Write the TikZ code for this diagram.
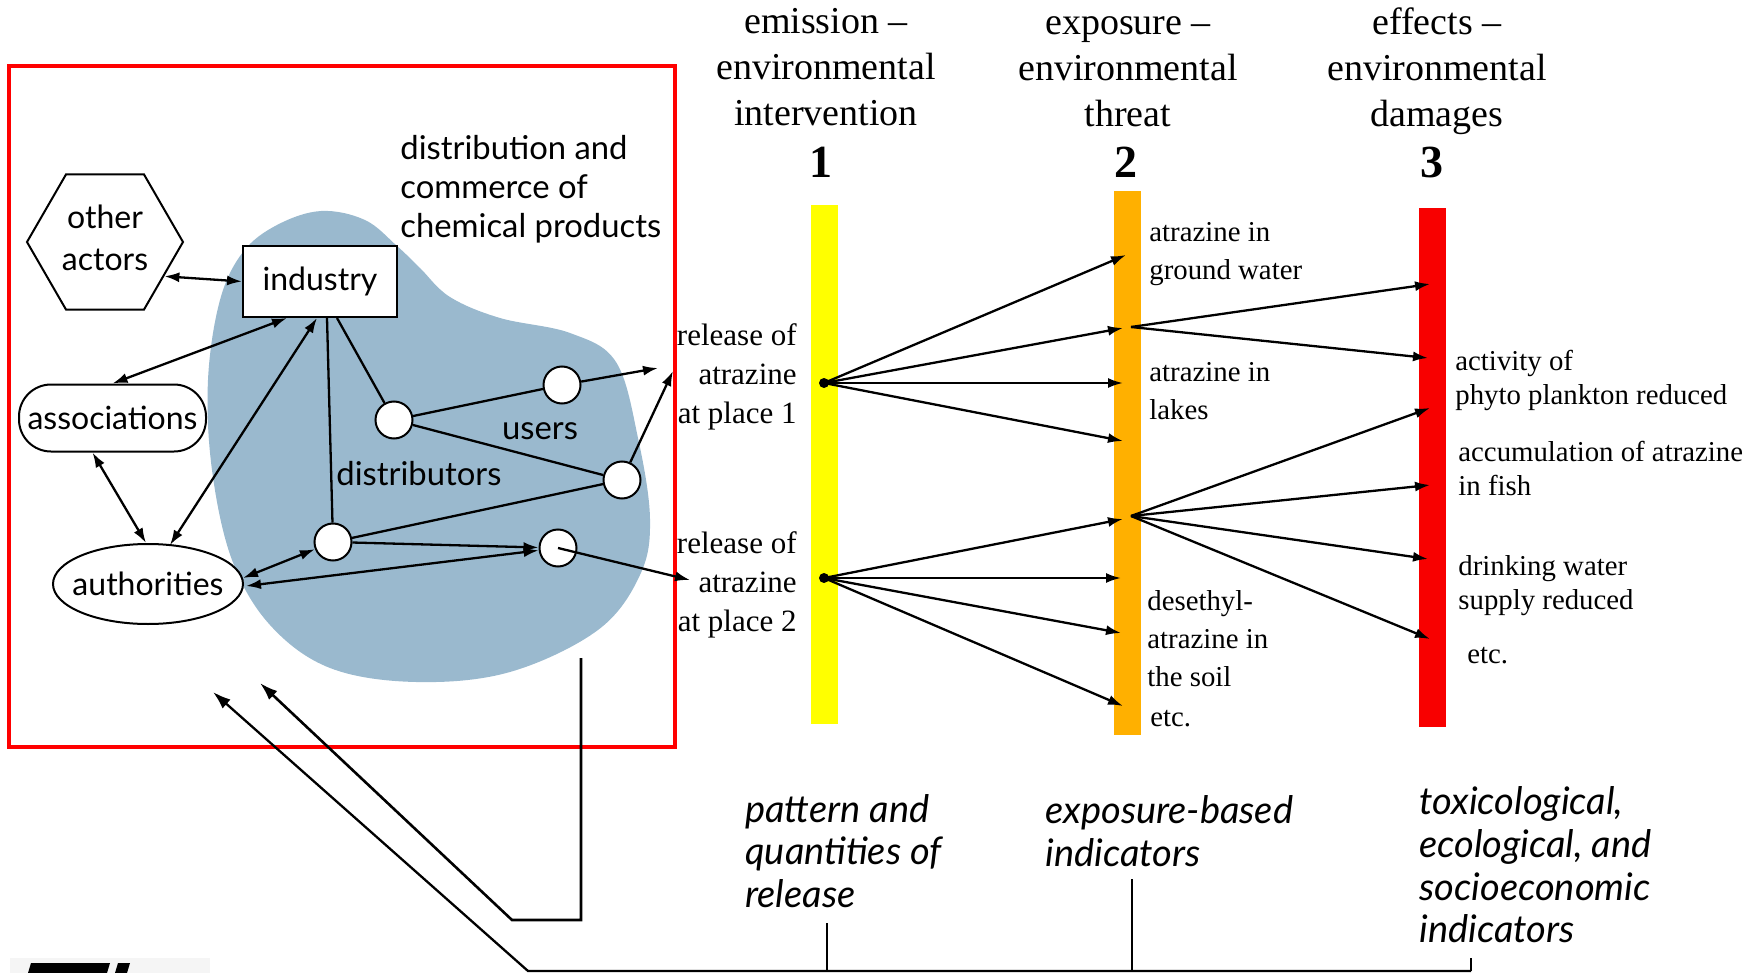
\documentclass[tikz,border=0pt]{standalone}
\usepackage{fontspec}
\setmainfont{Liberation Serif}
\newfontfamily\netfont{Lato}
\usetikzlibrary{shapes.geometric,arrows.meta,calc}
\definecolor{blobblue}{RGB}{154,185,206}
\definecolor{barorange}{RGB}{255,176,0}
\definecolor{barred}{RGB}{248,0,0}
\definecolor{baryellow}{RGB}{255,255,0}
\definecolor{framered}{RGB}{255,0,0}
\begin{document}
\begin{tikzpicture}[x=0.5pt,y=-0.5pt,
  hd/.tip={Latex[length=7.5pt,width=5pt]},
  bighd/.tip={Latex[length=9pt,width=6pt]},
  link/.style={line width=1.15pt},
  arr/.style={link,-hd},
  dbl/.style={link,hd-hd},
  net/.style={font=\netfont\fontsize{16}{17}\selectfont},
  hexa/.style={regular polygon,regular polygon sides=6,draw,line width=1pt,fill=white,
    minimum size=78pt,inner sep=0pt,align=center,text depth=4.5pt,
    font=\netfont\fontsize{16}{21}\selectfont},
  boxnode/.style={rectangle,draw,line width=1pt,fill=white,minimum width=77pt,
    minimum height=35.5pt,inner sep=0pt,net},
  pill/.style={rectangle,rounded corners=16pt,draw,line width=1pt,fill=white,
    minimum width=93.5pt,minimum height=33.5pt,inner sep=0pt,net},
  oval/.style={ellipse,draw,line width=1pt,fill=white,minimum width=95pt,
    minimum height=40pt,inner sep=0pt,net},
  hub/.style={circle,draw,line width=1pt,fill=white,minimum size=18.5pt,inner sep=0pt},
  nettext/.style={inner sep=0pt,align=left,font=\netfont\fontsize{16.4}{19.5}\selectfont},
  indic/.style={inner sep=0pt,align=left,font=\netfont\itshape\fontsize{19}{21.3}\selectfont},
  hdr/.style={inner sep=0pt,align=center,font=\fontsize{19}{23}\selectfont},
  num/.style={inner sep=0pt,font=\bfseries\fontsize{23}{23}\selectfont},
  rel/.style={inner sep=0pt,align=right,font=\fontsize{15.5}{19.5}\selectfont},
  lab/.style={inner sep=0pt,align=left,font=\fontsize{14.4}{19}\selectfont},
  lab3/.style={inner sep=0pt,align=left,font=\fontsize{14.4}{17}\selectfont},
  bar/.style={rectangle,inner sep=0pt,minimum width=13.5pt},
  bdot/.style={circle,fill=black,inner sep=0pt,minimum size=5pt}]
\useasboundingbox (0,0) rectangle (1756,973);

% frame round the actor network
\draw[framered,line width=1.8pt] (9,66) rectangle (675,747);

% market area of the chemical products
\fill[blobblue] plot[smooth cycle,tension=0.6] coordinates {
  (321,211) (277,225) (243,252) (220,300) (208,380) (212,470) (232,560)
  (270,625) (330,668) (416,682) (510,672) (598,630) (640,575) (650,519)
  (638,438) (616,362) (570,333) (500,318) (450,297) (420,268) (397,246) (365,220)};

% actors
\node[hexa] (oth) at (105,242) {other\\actors};
\node[boxnode] (ind) at (320,281.5) {industry};
\node[pill] (ass) at (112.5,418) {associations};
\node[oval] (aut) at (148,584) {\makebox[0pt][c]{authorities}};
\node[hub] (c1) at (394,420) {};
\node[hub] (c2) at (562,385) {};
\node[hub] (c3) at (622,480) {};
\node[hub] (c4) at (333,542) {};
\node[hub] (c5) at (558,548) {};
\node[nettext,anchor=west] (dist) at (400,189) {distribution and\\commerce of\\chemical products};
\node[nettext,anchor=center] (usr) at (540,431) {users};
\node[nettext,anchor=west] (dstr) at (336,474) {distributors};

% relations between the actors
\draw[dbl] (oth.-30) -- (ind.west);
\draw[dbl] ($(ind.south)+(-33,0)$) -- (ass.north);
\draw[dbl] ($(ind.south)+(-3,0)$) -- ($(aut.north)+(22,2)$);
\draw[dbl] ($(ass.south)+(-20,0)$) -- ($(aut.north)+(-2,0)$);
\draw[link] ($(ind.south)+(7,0)$) -- (c4);
\draw[link] ($(ind.south)+(17,0)$) -- (c1);
\draw[link] (c1) -- (c2);
\draw[link] (c1) -- (c3);
\draw[link] (c4) -- (c3);
\draw[arr] (c4) -- (c5);
\draw[dbl] ($(aut.east)+(-1,-6)$) -- (c4);
\draw[dbl] ($(aut.east)+(2,2)$) -- (c5);
\coordinate (e1) at (658,368);
\coordinate (e2) at (673,371);
\coordinate (e3) at (690,580);
\draw[arr] (c2) -- (e1);
\draw[arr] (c3) -- (e2);
\draw[arr] (c5.center) -- (e3);

% column headings
\node[hdr] (h1) at (826,67) {emission –\\environmental\\intervention};
\node[hdr] (h2) at (1128,71.5) {exposure –\\environmental\\threat};
\node[hdr] (h3) at (1437,71) {effects –\\environmental\\damages};
\node[num,anchor=base] (n1) at (821,178) {1};
\node[num,anchor=base] (n2) at (1126,178) {2};
\node[num,anchor=base] (n3) at (1432,178) {3};

% the three stages
\node[bar,fill=baryellow,minimum height=259.5pt] (b1) at (824.5,464.5) {};
\node[bar,fill=barorange,minimum height=272pt] (b2) at (1127.5,463) {};
\node[bar,fill=barred,minimum height=259.5pt] (b3) at (1432.5,467.5) {};

\node[rel,anchor=east] (r1) at (797,377) {release of\\atrazine\\at place 1};
\node[rel,anchor=east] (r2) at (797,585) {release of\\atrazine\\at place 2};

\node[lab,anchor=west] (x1) at (1149,254) {atrazine in\\ground water};
\node[lab,anchor=west] (x2) at (1149,391) {atrazine in\\lakes};
\node[lab,anchor=west] (x3) at (1147,639) {desethyl-\\atrazine in\\the soil};
\node[lab,anchor=west] (x4) at (1150,719) {etc.};

\node[lab3,anchor=west] (y1) at (1455,380) {activity of\\phyto plankton reduced};
\node[lab3,anchor=west] (y2) at (1458,468) {accumulation of atrazine\\in fish};
\node[lab3,anchor=west] (y3) at (1458,586) {drinking water\\supply reduced};
\node[lab3,anchor=west] (y4) at (1467,656) {etc.};

% release points and pathways
\node[bdot] (d1) at (824,383) {};
\node[bdot] (d2) at (824,578) {};
\coordinate (p1) at (1131,327);
\coordinate (p2) at (1131,516);
\foreach \n/\x/\y in {t11/1126/255,t12/1123/328,t13/1123/383,t14/1123/441,
  t21/1123/519,t22/1121/578,t23/1121/633,t24/1123/706,
  u11/1430/284,u12/1428/358,u21/1430/408,u22/1430/485,u23/1428/559,u24/1430/639}
  {\coordinate (\n) at (\x,\y);}
\foreach \t in {t11,t12,t13,t14} {\draw[arr] (d1.center) -- (\t);}
\foreach \t in {t21,t22,t23,t24} {\draw[arr] (d2.center) -- (\t);}
\foreach \t in {u11,u12} {\draw[arr] (p1) -- (\t);}
\foreach \t in {u21,u22,u23,u24} {\draw[arr] (p2) -- (\t);}

% indicator types
\node[indic,anchor=west] (i1) at (745,851) {pattern and\\quantities of\\release};
\node[indic,anchor=west] (i2) at (1045,831) {exposure-based\\indicators};
\node[indic,anchor=west] (i3) at (1419,865) {toxicological,\\ecological, and\\socioeconomic\\indicators};

% feedback to the actors
\coordinate (vtop) at (581,658);
\coordinate (vleft) at (512,920);
\coordinate (tipA) at (260,683);
\coordinate (hl) at (528,971);
\coordinate (hr) at (1471,971);
\coordinate (tipB) at (213,692);
\draw[line width=1.3pt,-bighd] (vtop) |- (vleft) -- (tipA);
\draw[link,-bighd] (hr) -- (hl) -- (tipB);
\draw[link] (827,923) -- (827,971);
\draw[link] (1132,879) -- (1132,971);
\draw[link] (1471,958) -- (1471,971);

% clipped lettering in the lower corner
\fill[black!4] (10,958) rectangle (210,973);
\fill (28,973) -- (31,963) -- (110,963) -- (107,973) -- cycle;
\fill (115,973) -- (118,963) -- (130,963) -- (127,973) -- cycle;
\end{tikzpicture}
\end{document}
